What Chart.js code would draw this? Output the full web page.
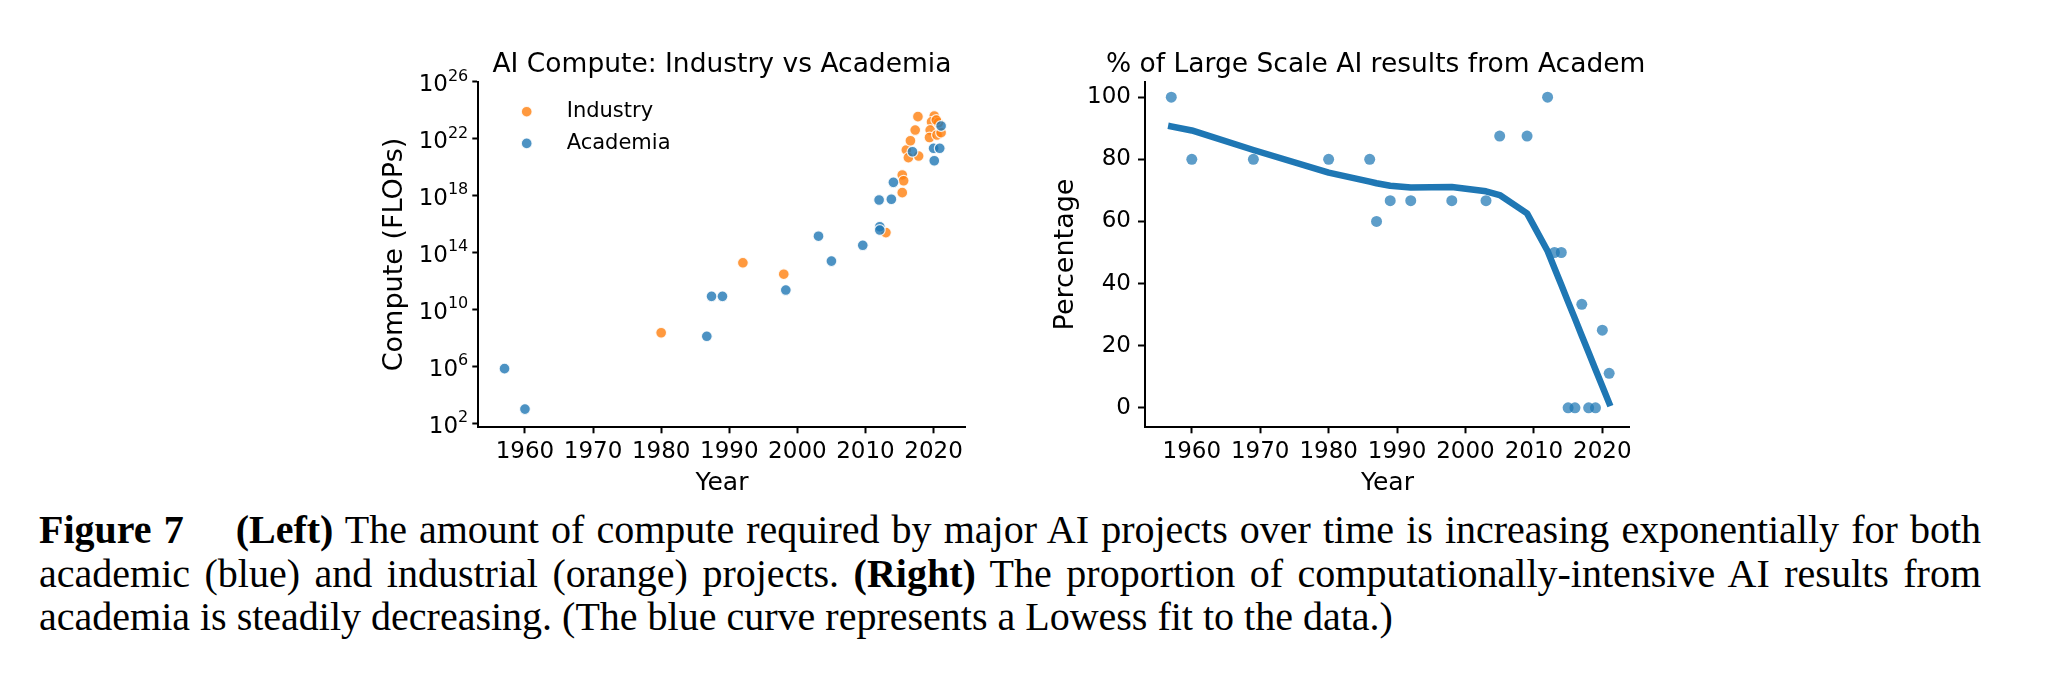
<!DOCTYPE html>
<html>
<head>
<meta charset="utf-8">
<title>Figure 7</title>
<script src="https://cdn.jsdelivr.net/npm/chart.js@4.4.1/dist/chart.umd.min.js"></script>
<style>
  html, body { margin: 0; padding: 0; background: #fff; }
  body { width: 2048px; height: 687px; position: relative; overflow: hidden; }
  canvas { position: absolute; }
  #caption {
    position: absolute; left: 39px; top: 508px; width: 1942px;
    font-family: 'Liberation Serif', 'Times New Roman', serif;
    font-size: 40px; line-height: 43.5px; color: #000;
  }
  #caption .jl { text-align: justify; text-align-last: justify; white-space: nowrap; }
  #caption .ll { text-align: left; white-space: nowrap; }
  #caption .gap { display: inline-block; width: 1.3em; }
</style>
</head>
<body>
<canvas id="computeChart" width="622" height="470" style="left:368px; top:30px;"></canvas>
<canvas id="shareChart" width="624" height="470" style="left:1028px; top:30px;"></canvas>

<div id="caption">
  <div class="jl"><b>Figure 7</b><span class="gap"></span><b>(Left)</b> The amount of compute required by major AI projects over time is increasing exponentially for both</div>
  <div class="jl">academic (blue) and industrial (orange) projects. <b>(Right)</b> The proportion of computationally-intensive AI results from</div>
  <div class="ll">academia is steadily decreasing. (The blue curve represents a Lowess fit to the data.)</div>
</div>

<script>
// --- datos del gráfico izquierdo (compute en FLOPs, escala log) ---
const industryYears = [1980.0, 1992.0, 1998.0, 2013.0, 2015.4, 2015.6, 2015.4, 2016.0, 2016.3, 2016.6,
  2017.3, 2017.7, 2017.8, 2020.1, 2019.7, 2019.5, 2019.4, 2020.5, 2021.1, 2020.7, 2020.4];
const industryFlops = [2.3e8, 1.9e13, 3.0e12, 2.5e15, 2.8e19, 1.1e19, 1.6e18, 1.6e21, 4.6e20, 7.1e21,
  4.0e22, 3.5e23, 6.0e20, 3.9e23, 1.5e23, 4.0e22, 1.2e22, 1.8e22, 2.6e22, 1.3e23, 2.0e23];

const academiaYears = [1957.0, 1960.0, 1986.7, 1987.4, 1989.0, 1998.3, 2003.1, 2005.0, 2009.6, 2012.0,
  2012.1, 2012.1, 2013.8, 2014.1, 2016.9, 2020.0, 2020.1, 2020.9, 2021.1];
const academiaFlops = [6.9e5, 1.0e3, 1.3e8, 8.3e10, 8.3e10, 2.3e11, 1.4e15, 2.5e13, 3.2e14, 4.9e17,
  6.5e15, 3.8e15, 5.5e17, 8.5e18, 1.2e21, 2.1e21, 2.8e20, 2.1e21, 7.8e22];

// marcas del eje log: valor y exponente que se escribe como 10^n
const computeTicks = [1e2, 1e6, 1e10, 1e14, 1e18, 1e22, 1e26];
const computeTickExponents = ['2', '6', '10', '14', '18', '22', '26'];

// --- datos del gráfico derecho (% de resultados académicos) ---
const shareYears = [1957, 1960, 1969, 1980, 1986, 1987, 1989, 1992, 1998, 2003, 2005,
  2009, 2012, 2013, 2014, 2015, 2016, 2017, 2018, 2019, 2020, 2021];
const sharePercent = [100, 80, 80, 80, 80, 60, 66.7, 66.7, 66.7, 66.7, 87.5,
  87.5, 100, 50, 50, 0, 0, 33.3, 0, 0, 25, 11.1];
const lowessPercent = [90.6, 89.3, 83.0, 75.7, 72.8, 72.3, 71.5, 70.9, 71.1, 69.7, 68.5,
  62.6, 50.5, 45.0, 39.6, 34.1, 28.7, 23.2, 17.8, 12.3, 6.9, 1.5];
const shareTicks = [0, 20, 40, 60, 80, 100];

const yearTicks = [1960, 1970, 1980, 1990, 2000, 2010, 2020];

// --- estilos ---
const FONT = 'DejaVu Sans';
const BLUE = '#1f77b4';
const BLUE_DOT = 'rgba(31, 119, 180, 0.8)';
const ORANGE_DOT = 'rgba(255, 127, 14, 0.8)';
const TICK_SIZE = 23;

// título centrado sobre el área del gráfico (el texto visible puede estar recortado)
const axesTitle = {
  id: 'axesTitle',
  afterDraw(chart, args, opts) {
    const { ctx, chartArea } = chart;
    ctx.save();
    ctx.font = `${opts.size}px "${FONT}"`;
    ctx.fillStyle = '#000';
    ctx.textBaseline = 'alphabetic';
    ctx.textAlign = 'left';
    const full = opts.fullText || opts.text;
    const cx = (chartArea.left + chartArea.right) / 2;
    const x0 = cx - ctx.measureText(full).width / 2;
    ctx.fillText(opts.text, x0, chartArea.top - opts.gap);
    ctx.restore();
  }
};

// leyenda dentro del área, estilo matplotlib
const insideLegend = {
  id: 'insideLegend',
  afterDraw(chart, args, opts) {
    const { ctx, chartArea } = chart;
    ctx.save();
    ctx.font = `${opts.size}px "${FONT}"`;
    ctx.textBaseline = 'middle';
    ctx.textAlign = 'left';
    opts.order.forEach((dsIndex, i) => {
      const ds = chart.data.datasets[dsIndex];
      const x = chartArea.left + opts.dx;
      const y = chartArea.top + opts.dy + i * opts.rowGap;
      ctx.beginPath();
      ctx.arc(x, y, ds.pointRadius, 0, Math.PI * 2);
      ctx.fillStyle = ds.backgroundColor;
      ctx.fill();
      ctx.lineWidth = ds.borderWidth;
      ctx.strokeStyle = ds.borderColor;
      ctx.stroke();
      ctx.fillStyle = '#000';
      ctx.fillText(ds.label, x + opts.textOffset, y);
    });
    ctx.restore();
  }
};

// etiquetas 10^n con exponente en superíndice (como mathtext)
const powerLabels = {
  id: 'powerLabels',
  afterDraw(chart, args, opts) {
    const { ctx } = chart;
    const scale = chart.scales.y;
    const right = scale.right - opts.offset;
    ctx.save();
    ctx.fillStyle = '#000';
    ctx.textBaseline = 'alphabetic';
    ctx.textAlign = 'left';
    scale.ticks.forEach((t) => {
      const idx = computeTicks.indexOf(t.value);
      if (idx < 0) return;
      const exp = computeTickExponents[idx];
      const y = scale.getPixelForValue(t.value);
      ctx.font = `${opts.supSize}px "${FONT}"`;
      const wSup = ctx.measureText(exp).width;
      ctx.font = `${opts.size}px "${FONT}"`;
      const wBase = ctx.measureText('10').width;
      const baseline = y + opts.size * 0.729 / 2 + 1;
      ctx.fillText('10', right - wSup - wBase, baseline);
      ctx.font = `${opts.supSize}px "${FONT}"`;
      ctx.fillText(exp, right - wSup, baseline - opts.raise);
    });
    ctx.restore();
  }
};

function yearAxis(min, max) {
  return {
    type: 'linear',
    min: min,
    max: max,
    afterBuildTicks: (scale) => { scale.ticks = yearTicks.map(v => ({ value: v })); },
    afterFit: (scale) => { scale.height = 72.7; },
    ticks: {
      callback: (v) => String(v),
      font: { family: FONT, size: TICK_SIZE },
      color: '#000',
      padding: 5,
      maxRotation: 0,
      autoSkip: false
    },
    grid: { drawOnChartArea: false, drawTicks: true, tickLength: 6, tickWidth: 2, tickColor: '#000' },
    border: { display: true, color: '#000', width: 2 },
    title: {
      display: true, text: 'Year', color: '#000',
      font: { family: FONT, size: 25 },
      padding: { top: 0, bottom: 1.7 }
    }
  };
}

document.addEventListener('DOMContentLoaded', () => {

  /* ---------------- Izquierda: compute industria vs academia ---------------- */
  new Chart(document.getElementById('computeChart'), {
    type: 'scatter',
    data: {
      datasets: [
        {
          label: 'Industry',
          data: industryYears.map((x, i) => ({ x, y: industryFlops[i] })),
          backgroundColor: ORANGE_DOT,
          borderColor: 'rgba(255, 255, 255, 0.85)',
          borderWidth: 1.2,
          pointRadius: 5.4,
          order: 1
        },
        {
          label: 'Academia',
          data: academiaYears.map((x, i) => ({ x, y: academiaFlops[i] })),
          backgroundColor: BLUE_DOT,
          borderColor: 'rgba(255, 255, 255, 0.85)',
          borderWidth: 1.2,
          pointRadius: 5.4,
          order: 0
        }
      ]
    },
    options: {
      responsive: false,
      animation: false,
      layout: { padding: { top: 51.7, right: 24.4, bottom: 0, left: 0 } },
      plugins: {
        legend: { display: false },
        tooltip: { enabled: false },
        axesTitle: { text: 'AI Compute: Industry vs Academia', size: 26.5, gap: 9.5 },
        insideLegend: { order: [0, 1], size: 21, dx: 48.4, dy: 30, rowGap: 31.7, textOffset: 40 },
        powerLabels: { size: TICK_SIZE, supSize: 16, raise: 10.5, offset: 10 }
      },
      scales: {
        x: yearAxis(1953.15, 2024.7),
        y: {
          type: 'logarithmic',
          min: Math.pow(10, 1.72),
          max: 1e26,
          afterBuildTicks: (scale) => { scale.ticks = computeTicks.map(v => ({ value: v })); },
          afterFit: (scale) => { scale.width = 110.3; },
          ticks: { display: false, autoSkip: false },
          grid: { drawOnChartArea: false, drawTicks: true, tickLength: 6, tickWidth: 2, tickColor: '#000' },
          border: { display: true, color: '#000', width: 2 },
          title: {
            display: true, text: 'Compute (FLOPs)', color: '#000',
            font: { family: FONT, size: 27 },
            padding: { top: 10.7, bottom: 0 }
          }
        }
      }
    },
    plugins: [axesTitle, insideLegend, powerLabels]
  });

  /* ---------------- Derecha: % de resultados desde la academia ---------------- */
  new Chart(document.getElementById('shareChart'), {
    type: 'scatter',
    data: {
      datasets: [
        {
          type: 'line',
          label: 'Lowess',
          data: shareYears.map((x, i) => ({ x, y: lowessPercent[i] })),
          borderColor: BLUE,
          borderWidth: 6.5,
          borderCapStyle: 'square',
          borderJoinStyle: 'round',
          pointRadius: 0,
          showLine: true,
          fill: false,
          tension: 0,
          order: 0
        },
        {
          label: 'Academia share',
          data: shareYears.map((x, i) => ({ x, y: sharePercent[i] })),
          backgroundColor: 'rgba(31, 119, 180, 0.72)',
          borderWidth: 0,
          pointRadius: 5.5,
          order: 1
        }
      ]
    },
    options: {
      responsive: false,
      animation: false,
      layout: { padding: { top: 51.7, right: 22.1, bottom: 0, left: 0 } },
      plugins: {
        legend: { display: false },
        tooltip: { enabled: false },
        axesTitle: {
          text: '% of Large Scale AI results from Academ',
          fullText: '% of Large Scale AI results from Academia',
          size: 26.5, gap: 10
        }
      },
      scales: {
        x: yearAxis(1953.16, 2024.03),
        y: {
          type: 'linear',
          min: -6.29,
          max: 105,
          afterBuildTicks: (scale) => { scale.ticks = shareTicks.map(v => ({ value: v })); },
          afterFit: (scale) => { scale.width = 117; },
          ticks: {
            font: { family: FONT, size: TICK_SIZE },
            color: '#000',
            padding: 7,
            autoSkip: false
          },
          grid: { drawOnChartArea: false, drawTicks: true, tickLength: 7, tickWidth: 2, tickColor: '#000' },
          border: { display: true, color: '#000', width: 2 },
          title: {
            display: true, text: 'Percentage', color: '#000',
            font: { family: FONT, size: 27 },
            padding: { top: 22.1, bottom: 0 }
          }
        }
      }
    },
    plugins: [axesTitle]
  });
});
</script>
</body>
</html>
